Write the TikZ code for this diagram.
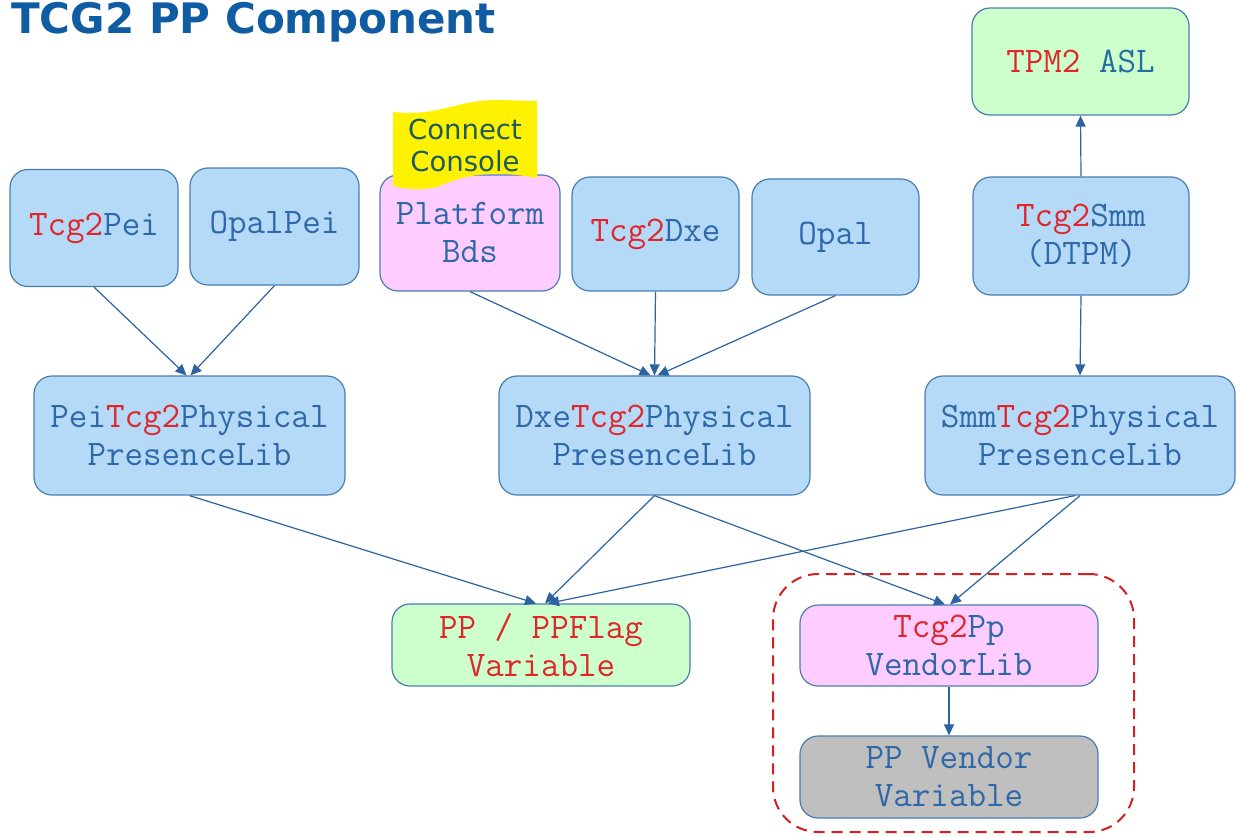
\documentclass[tikz,border=0pt]{standalone}
\usepackage{fontspec}
\setmainfont{DejaVu Sans}
\newfontfamily\titlef{DejaVu Sans}
\usetikzlibrary{arrows.meta}
\definecolor{bfill}{HTML}{B4DAF8}
\definecolor{bord}{HTML}{4A7DB0}
\definecolor{pfill}{HTML}{FFCCFF}
\definecolor{gfill}{HTML}{CCFFCC}
\definecolor{grfill}{HTML}{BFBFBF}
\definecolor{tblue}{HTML}{2F68A8}
\definecolor{tred}{HTML}{E0262B}
\definecolor{arr}{HTML}{2B64A0}
\definecolor{titlec}{HTML}{0F5CA3}
\definecolor{ccol}{HTML}{1E5A60}
\definecolor{dred}{HTML}{D42020}
\newcommand{\R}[1]{\textcolor{tred}{#1}}
\tikzset{
  box/.style={draw=bord, line width=1.2pt, rounded corners=18pt, align=center,
    inner sep=0pt, text=tblue, font=\ttfamily\fontsize{36}{38}\selectfont},
  bbox/.style={box, fill=bfill},
  pbox/.style={box, fill=pfill},
  gbox/.style={box, fill=gfill},
  grbox/.style={box, fill=grfill},
  conn/.style={draw=arr, line width=1.2pt, -{Triangle[width=10pt,length=11pt]}}
}
\begin{document}
\begin{tikzpicture}[x=1pt,y=-1pt]
\useasboundingbox (0,0) rectangle (1236,837);
\fill[white] (0,0) rectangle (1236,837);
\node[anchor=north west, inner sep=0pt, text=titlec, font=\titlef\bfseries\fontsize{42}{46}\selectfont] (title) at (11,2) {TCG2 PP Component};

% top row
\node[bbox, minimum width=168pt, minimum height=117pt] (tpei) at (94,228) {\R{Tcg2}Pei};
\node[bbox, minimum width=169pt, minimum height=117pt] (opei) at (274.5,226.5) {OpalPei};
\node[pbox, minimum width=180pt, minimum height=116pt] (pbds) at (470,233) {Platform\\Bds};
\node[bbox, minimum width=167pt, minimum height=114pt] (tdxe) at (655.5,234) {\R{Tcg2}Dxe};
\node[bbox, minimum width=167pt, minimum height=116pt] (opal) at (835.5,237) {Opal};
\node[bbox, minimum width=216pt, minimum height=118pt] (tsmm) at (1081,236) {\R{Tcg2}Smm\\(DTPM)};
\node[gbox, minimum width=217pt, minimum height=107pt] (asl) at (1080.5,61.5) {\R{TPM2} \textcolor{tblue!80!teal}{ASL}};

% connect console flag
\path[fill=yellow] (393,112) .. controls (440,117) and (458,99) .. (500,100) -- (537,101)
  -- (537,178) .. controls (500,171) and (470,172) .. (440,186)
  .. controls (420,192) and (400,188) .. (393,186) -- cycle;
\node[inner sep=0pt, align=center, text=ccol, font=\fontsize{27.5}{32}\selectfont] (cc) at (465,145) {Connect\\Console};

% middle row
\node[bbox, minimum width=311pt, minimum height=119pt] (peilib) at (189.5,435.5) {Pei\R{Tcg2}Physical\\PresenceLib};
\node[bbox, minimum width=311pt, minimum height=119pt] (dxelib) at (654.5,435.5) {Dxe\R{Tcg2}Physical\\PresenceLib};
\node[bbox, minimum width=310pt, minimum height=119pt] (smmlib) at (1080,435.5) {Smm\R{Tcg2}Physical\\PresenceLib};

% bottom
\node[gbox, minimum width=298pt, minimum height=82pt, text=tred] (ppv) at (541,645) {PP / PPFlag\\Variable};
\node[pbox, minimum width=298pt, minimum height=81pt] (vlib) at (949,645.5) {\R{Tcg2}Pp\\VendorLib};
\node[grbox, minimum width=298pt, minimum height=82pt] (vvar) at (949,777) {PP Vendor\\Variable};
\node[draw=dred, line width=2pt, dash pattern=on 11pt off 7pt, rounded corners=45pt,
  minimum width=361pt, minimum height=258pt, inner sep=0pt] (dash) at (953.5,703) {};

% connectors
\draw[conn] (tpei.south) -- ([xshift=-3pt]peilib.north);
\draw[conn] (opei.south) -- ([xshift=1pt]peilib.north);
\draw[conn] (pbds.south) -- ([xshift=-4pt]dxelib.north);
\draw[conn] (tdxe.south) -- ([xshift=0pt]dxelib.north);
\draw[conn] (opal.south) -- ([xshift=3pt]dxelib.north);
\draw[conn] (tsmm.north) -- (asl.south);
\draw[conn] (tsmm.south) -- (smmlib.north);
\draw[conn] (peilib.south) -- ([xshift=-5pt]ppv.north);
\draw[conn] (dxelib.south) -- ([xshift=4pt]ppv.north);
\draw[conn] ([xshift=-5pt]smmlib.south) -- ([xshift=7pt]ppv.north);
\draw[conn] (dxelib.south) -- ([xshift=-4pt]vlib.north);
\draw[conn] (smmlib.south) -- ([xshift=1pt]vlib.north);
\draw[conn] (vlib.south) -- (vvar.north);
\end{tikzpicture}
\end{document}
